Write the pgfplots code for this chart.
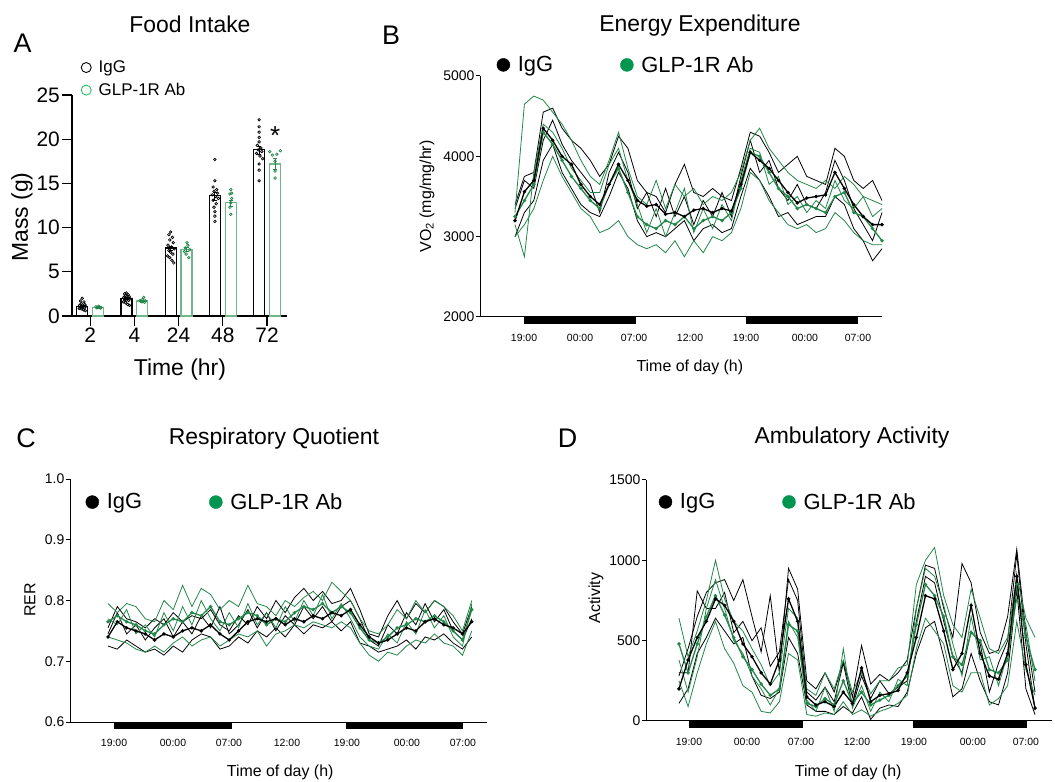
\documentclass[border=0pt]{standalone}
\usepackage{fontspec}
\setmainfont{Liberation Sans}
\usepackage{pgfplots}
\pgfplotsset{compat=1.18}
\usepackage{pgfplotstable}
\newcommand\fs[1]{\fontsize{#1}{#1}\selectfont}
\definecolor{glp}{RGB}{34,135,72}
\definecolor{glpdot}{RGB}{0,150,80}
\definecolor{glpbar}{RGB}{110,185,135}
\definecolor{glpleg}{RGB}{40,190,100}

% VO2, one row per hour (t = 0 is the first 19:00)
\pgfplotstableread{
t  k0   k1   k2   k3   g0   g1   g2   g3
-1 3200 3400 3000 3350 3250 3300 3000 3150
0  3560 3750 3300 3700 3450 4650 3150 2750
1  3700 3800 3450 3600 3650 4750 3350 3800
2  4350 4550 3950 4200 4300 4700 3700 4400
3  4200 4600 4150 4450 4150 4550 4000 4300
4  4000 4350 3800 4150 3950 4400 3750 4100
5  3900 4200 3600 3950 3750 4200 3550 3850
6  3650 4100 3400 3800 3600 3950 3350 3700
7  3500 3950 3300 3650 3450 3750 3250 3550
8  3400 3750 3250 3300 3350 3650 3050 3550
9  3650 3900 3500 3800 3650 3950 3100 3900
10 3900 4250 3800 4050 3850 4300 3200 4100
11 3700 4100 3600 3800 3550 3850 3000 3700
12 3450 3700 3200 3350 3250 3500 2900 3400
13 3380 3550 3000 3550 3150 3400 2850 3050
14 3400 3500 3050 3250 3100 3700 2900 3350
15 3280 3300 3000 3600 3200 3350 2800 3000
16 3300 3650 3100 3250 3150 3650 2950 3300
17 3250 3900 3200 3500 3250 3500 2750 3600
18 3330 3550 2950 3150 3100 3600 2950 3050
19 3350 3500 3100 3450 3200 3400 2800 3350
20 3300 3600 3150 3250 3250 3500 3000 3100
21 3350 3500 3050 3550 3200 3450 2950 3400
22 3320 3450 3100 3250 3300 3550 3050 3200
23 3650 3850 3500 3750 3600 3800 3350 3700
24 4050 4300 3850 4200 4050 4200 3800 4100
25 3950 4250 3700 3800 4000 4350 3700 4050
26 3850 4050 3500 3950 3800 4100 3450 3650
27 3700 3800 3250 3600 3600 3950 3300 3750
28 3550 3900 3300 3450 3500 3800 3150 3400
29 3420 4000 3150 3650 3350 3700 3100 3500
30 3480 3750 3200 3400 3400 3650 3150 3300
31 3500 3700 3250 3350 3350 3600 3050 3450
32 3520 3650 3250 3550 3300 3700 3100 3350
33 3800 4100 3500 3950 3500 3600 3300 3700
34 3600 4000 3400 3700 3550 3750 3200 3450
35 3400 3700 3100 3350 3300 3650 3050 3350
36 3250 3600 2950 3150 3250 3500 2950 3500
37 3150 3700 2700 2950 3100 3450 2900 3250
38 3150 3450 2850 3300 2950 3400 2900 3350
}\Bdata

% RER
\pgfplotstableread{
t  k0    k1    k2    k3    g0    g1    g2    g3
-1 0.740 0.755 0.725 0.745 0.765 0.795 0.740 0.770
0  0.765 0.790 0.720 0.780 0.775 0.780 0.735 0.760
1  0.755 0.770 0.735 0.745 0.765 0.795 0.730 0.785
2  0.750 0.765 0.725 0.760 0.760 0.790 0.720 0.745
3  0.745 0.755 0.715 0.735 0.750 0.770 0.715 0.760
4  0.735 0.770 0.720 0.755 0.745 0.765 0.725 0.740
5  0.745 0.760 0.710 0.770 0.760 0.800 0.715 0.780
6  0.740 0.780 0.725 0.740 0.770 0.785 0.730 0.750
7  0.750 0.765 0.715 0.765 0.765 0.825 0.740 0.790
8  0.755 0.775 0.735 0.745 0.780 0.790 0.725 0.760
9  0.750 0.770 0.745 0.775 0.775 0.820 0.735 0.800
10 0.760 0.785 0.740 0.755 0.790 0.810 0.740 0.770
11 0.745 0.760 0.720 0.790 0.765 0.785 0.725 0.750
12 0.735 0.750 0.725 0.745 0.760 0.800 0.735 0.780
13 0.750 0.775 0.740 0.760 0.770 0.790 0.745 0.755
14 0.765 0.760 0.730 0.785 0.780 0.825 0.740 0.795
15 0.770 0.790 0.750 0.755 0.775 0.795 0.750 0.760
16 0.765 0.770 0.740 0.780 0.760 0.790 0.725 0.780
17 0.770 0.800 0.755 0.750 0.770 0.775 0.745 0.755
18 0.760 0.780 0.740 0.775 0.765 0.800 0.750 0.790
19 0.770 0.805 0.760 0.760 0.780 0.790 0.760 0.765
20 0.765 0.820 0.745 0.790 0.790 0.805 0.755 0.800
21 0.775 0.800 0.760 0.770 0.785 0.815 0.765 0.775
22 0.770 0.815 0.755 0.790 0.795 0.800 0.760 0.810
23 0.780 0.795 0.765 0.765 0.780 0.830 0.755 0.770
24 0.775 0.800 0.750 0.790 0.790 0.815 0.765 0.795
25 0.785 0.820 0.765 0.800 0.780 0.800 0.755 0.770
26 0.760 0.785 0.730 0.770 0.755 0.770 0.730 0.740
27 0.740 0.745 0.725 0.735 0.735 0.750 0.710 0.725
28 0.730 0.740 0.715 0.725 0.730 0.745 0.700 0.720
29 0.735 0.775 0.720 0.760 0.740 0.760 0.715 0.745
30 0.745 0.800 0.725 0.745 0.755 0.785 0.710 0.730
31 0.755 0.770 0.735 0.780 0.760 0.770 0.725 0.765
32 0.750 0.795 0.720 0.760 0.770 0.800 0.735 0.745
33 0.765 0.780 0.740 0.795 0.765 0.780 0.730 0.785
34 0.770 0.800 0.735 0.765 0.775 0.800 0.745 0.755
35 0.760 0.790 0.745 0.785 0.765 0.790 0.730 0.775
36 0.755 0.765 0.730 0.750 0.750 0.775 0.725 0.740
37 0.745 0.745 0.720 0.735 0.735 0.750 0.710 0.725
38 0.765 0.790 0.740 0.770 0.785 0.800 0.750 0.795
}\Cdata

% ambulatory activity
\pgfplotstableread{
t  k0  k1   k2  k3   g0  g1   g2  g3
-1 200 280  110 300  480 640  250 380
0  380 450  200 300  300 400  90  180
1  520 650  420 810  480 560  300 400
2  620 800  520 700  650 750  480 700
3  760 860  640 700  780 1000 620 880
4  720 880  560 800  660 760  450 700
5  620 750  480 550  520 620  360 500
6  480 880  520 620  400 560  220 420
7  400 650  280 500  320 450  180 280
8  300 430  160 580  230 350  60  200
9  230 780  140 340  160 220  50  100
10 380 300  180 430  200 300  120 200
11 760 950  520 880  600 700  420 620
12 620 820  420 750  560 640  380 520
13 150 250  100 180  110 200  40  130
14 100 200  60  130  90  160  30  60
15 120 300  60  210  140 300  50  210
16 90  180  40  120  100 200  40  60
17 180 370  90  360  250 380  120 450
18 110 150  50  90   110 180  40  80
19 330 470  150 280  180 300  70  220
20 120 230  10  140  100 170  30  60
21 160 290  80  250  130 250  60  180
22 170 250  100 170  160 250  80  120
23 190 300  90  210  220 330  110 260
24 300 380  180 250  280 350  160 220
25 520 700  420 620  600 850  450 700
26 780 970  580 900  850 1000 640 950
27 760 950  620 860  780 1080 560 900
28 560 700  400 620  650 780  480 720
29 320 520  150 400  400 600  220 480
30 420 980  200 300  350 520  180 280
31 720 860  420 560  550 820  300 650
32 420 550  250 480  500 640  300 380
33 280 420  120 180  320 450  100 400
34 260 440  100 360  300 420  140 220
35 420 650  300 500  380 520  220 420
36 900 1070 820 1040 850 900  620 760
37 350 550  200 480  520 640  320 600
38 80  180  40  70   320 520  160 250
}\Ddata

\pgfplotsset{
  timeax/.style={scale only axis, axis lines=left,
    axis line style={-, line width=1bp},
    tick align=outside, major tick length=4bp,
    ytick style={black, line width=1bp}, xtick style={draw=none},
    scaled ticks=false,
    /pgf/number format/assume math mode=true,
    /pgf/number format/1000 sep={},
    yticklabel style={font=\fs{14}, inner sep=1.5bp},
    xticklabel style={font=\fs{10.5}, yshift=-10bp},
    label style={font=\fs{16}},
    clip=false,
    legend columns=2,
    legend style={draw=none, fill=none, font=\fs{22}, inner sep=0pt,
      nodes={inner sep=2bp}, anchor=west,
      /tikz/every even column/.append style={column sep=65bp}}},
  thin/.style={line width=0.8bp},
  mean/.style={line width=1.3bp, mark=*, mark size=1bp},
  dotleg/.style={legend image code/.code={%
    \path[draw=none, fill=none] (0bp,-13bp) -- (19bp,13bp);
    \fill[#1] (6.5bp,0bp) circle (6.5bp);}},
  ringleg/.style={legend image code/.code={%
    \path[draw=none, fill=none] (0bp,0bp) -- (16bp,0bp);
    \draw[#1, line width=0.9bp, fill=none] (5bp,0) circle (5bp);}}
}

\begin{document}
\begin{tikzpicture}
\useasboundingbox (0,0) rectangle (1055bp,782bp);

% ---------- A: food intake ----------
\begin{axis}[at={(72bp,466bp)}, anchor=south west,
  scale only axis, width=215bp, height=221bp,
  axis lines=left, axis line style={-, line width=1.2bp},
  tick align=outside, major tick length=10bp,
  tick style={black, line width=1.2bp},
  xmin=-0.41, xmax=4.45, ymin=0, ymax=25,
  ytick={0,5,...,25}, xtick={0,1,2,3,4}, xticklabels={2,4,24,48,72},
  /pgf/number format/assume math mode=true,
  tick label style={font=\fs{21}, inner sep=2bp},
  label style={font=\fs{23}},
  ylabel={Mass (g)}, xlabel={Time (hr)},
  ylabel style={at={(axis description cs:-0.233,0.448)}, anchor=center},
  xlabel style={at={(axis description cs:0.502,-0.244)}, anchor=center},
  clip=false,
  legend style={draw=none, fill=none, font=\fs{17}, inner sep=0pt,
    nodes={inner sep=1.5bp}, row sep=6bp, at={(axis description cs:0.04,1.162)},
    anchor=north west},
  legend cell align=left]
\addlegendimage{ringleg=black}
\addlegendentry{IgG}
\addlegendimage{ringleg=glpleg}
\addlegendentry{GLP-1R Ab}
\addplot[ybar, bar width=11bp, bar shift=0pt, draw=black, fill=white,
  line width=1.3bp, error bars/.cd, y dir=both, y explicit,
  error bar style={line width=1bp, black}]
  coordinates {(-0.18,1.1) +- (0,0.1) (0.82,2.0) +- (0,0.1)
    (1.82,7.7) +- (0,0.25) (2.82,13.6) +- (0,0.45) (3.82,18.8) +- (0,0.45)};
\addplot[ybar, bar width=11bp, bar shift=0pt, draw=glpbar, fill=white,
  line width=1.3bp, error bars/.cd, y dir=both, y explicit,
  error bar style={line width=1bp, glp}]
  coordinates {(0.18,0.95) +- (0,0.05) (1.18,1.7) +- (0,0.1)
    (2.18,7.55) +- (0,0.2) (3.18,12.8) +- (0,0.35) (4.18,17.2) +- (0,0.6)};
\addplot[only marks, mark=o, mark size=1.3bp, black, mark options={line width=0.7bp}]
  coordinates {
  (-0.18,2.0) (-0.22,1.7) (-0.14,1.6) (-0.2,1.4) (-0.12,1.3) (-0.24,1.2)
  (-0.16,1.15) (-0.1,1.1) (-0.22,1.0) (-0.18,0.95) (-0.13,0.9) (-0.25,0.85)
  (-0.2,0.8) (-0.15,0.7) (-0.11,0.6)
  (0.82,2.6) (0.78,2.5) (0.86,2.4) (0.8,2.3) (0.88,2.2) (0.76,2.1) (0.84,2.05)
  (0.9,2.0) (0.78,1.9) (0.82,1.8) (0.87,1.75) (0.75,1.6) (0.8,1.5) (0.85,1.3) (0.89,1.2)
  (1.82,9.5) (1.78,9.2) (1.86,8.9) (1.8,8.6) (1.88,8.3) (1.76,8.0) (1.84,7.8)
  (1.9,7.6) (1.78,7.4) (1.82,7.2) (1.87,7.0) (1.75,6.8) (1.8,6.6) (1.85,6.3) (1.89,6.0)
  (2.82,17.7) (2.82,15.3) (2.78,14.6) (2.86,14.3) (2.8,14.1) (2.88,13.9) (2.76,13.7)
  (2.84,13.5) (2.9,13.3) (2.78,13.1) (2.85,12.7) (2.8,12.3) (2.82,11.8) (2.82,11.3) (2.82,10.7)
  (3.82,22.2) (3.82,21.4) (3.82,20.8) (3.82,20.2) (3.82,19.7) (3.78,19.3) (3.86,19.0)
  (3.8,18.8) (3.88,18.6) (3.76,18.4) (3.84,18.1) (3.9,17.8) (3.82,17.2) (3.82,16.5) (3.82,15.3)};
\addplot[only marks, mark=o, mark size=1.3bp, glp, mark options={line width=0.7bp}]
  coordinates {
  (0.13,1.05) (0.17,1.0) (0.21,1.02) (0.25,0.95) (0.15,0.92) (0.23,0.9) (0.19,1.1)
  (1.13,1.75) (1.17,1.6) (1.21,2.1) (1.25,1.7) (1.15,1.65) (1.23,1.55) (1.19,1.9)
  (2.13,7.3) (2.17,7.0) (2.21,8.0) (2.25,7.5) (2.15,7.7) (2.23,6.6) (2.19,8.3)
  (3.18,14.3) (3.16,13.8) (3.2,13.3) (3.18,12.8) (3.16,12.3) (3.18,11.5) (3.2,13.9)
  (4.06,18.6) (4.3,18.7) (4.12,18.2) (4.22,18.3) (4.18,17.5) (4.18,16.4) (4.18,15.6)};
\node[font=\fs{26}] at (axis cs:4.18,20.4) {*};
\end{axis}

% ---------- B: energy expenditure ----------
\begin{axis}[timeax, at={(480bp,465bp)}, anchor=south west,
  width=402bp, height=241bp,
  xmin=-4.72, xmax=38.0, ymin=2000, ymax=5000, ytick={2000,3000,4000,5000},
  xtick={-0.04,5.91,11.65,17.6,23.55,29.8,35.45},
  xticklabels={19:00,00:00,07:00,12:00,19:00,00:00,07:00},
  ylabel={VO\textsubscript{2} (mg/mg/hr)}, xlabel={Time of day (h)},
  ylabel style={at={(axis description cs:-0.132,0.5)}, anchor=center},
  xlabel style={at={(axis description cs:0.522,-0.207)}, anchor=center},
  legend style={at={(axis description cs:0.041,1.046)}}]
\addlegendimage{dotleg=black}
\addlegendentry{IgG}
\addlegendimage{dotleg=glpdot}
\addlegendentry{GLP-1R Ab}
\addplot[thin, black] table[x=t, y=k1] \Bdata;
\addplot[thin, black] table[x=t, y=k2] \Bdata;
\addplot[thin, black] table[x=t, y=k3] \Bdata;
\addplot[thin, glp] table[x=t, y=g1] \Bdata;
\addplot[thin, glp] table[x=t, y=g2] \Bdata;
\addplot[thin, glp] table[x=t, y=g3] \Bdata;
\addplot[mean, glp] table[x=t, y=g0] \Bdata;
\addplot[mean, black] table[x=t, y=k0] \Bdata;
\addplot[fill=black, draw=none, forget plot] coordinates
  {(-0.04,2000) (11.86,2000) (11.86,1913) (-0.04,1913)} -- cycle;
\addplot[fill=black, draw=none, forget plot] coordinates
  {(23.55,2000) (35.45,2000) (35.45,1913) (23.55,1913)} -- cycle;
\end{axis}

% ---------- C: respiratory quotient ----------
\begin{axis}[timeax, at={(70bp,60bp)}, anchor=south west,
  width=417bp, height=243bp,
  xmin=-5.07, xmax=39.63, ymin=0.6, ymax=1.0, ytick={0.6,0.7,0.8,0.9,1.0},
  yticklabel style={/pgf/number format/.cd, fixed, fixed zerofill, precision=1},
  xtick={-0.35,5.97,11.97,18.19,24.62,31.05,37.05},
  xticklabels={19:00,00:00,07:00,12:00,19:00,00:00,07:00},
  ylabel={RER}, xlabel={Time of day (h)},
  ylabel style={at={(axis description cs:-0.096,0.502)}, anchor=center},
  xlabel style={at={(axis description cs:0.504,-0.206)}, anchor=center},
  legend style={at={(axis description cs:0.037,0.905)}}]
\addlegendimage{dotleg=black}
\addlegendentry{IgG}
\addlegendimage{dotleg=glpdot}
\addlegendentry{GLP-1R Ab}
\addplot[thin, black] table[x=t, y=k1] \Cdata;
\addplot[thin, black] table[x=t, y=k2] \Cdata;
\addplot[thin, black] table[x=t, y=k3] \Cdata;
\addplot[thin, glp] table[x=t, y=g1] \Cdata;
\addplot[thin, glp] table[x=t, y=g2] \Cdata;
\addplot[thin, glp] table[x=t, y=g3] \Cdata;
\addplot[mean, glp] table[x=t, y=g0] \Cdata;
\addplot[mean, black] table[x=t, y=k0] \Cdata;
\addplot[fill=black, draw=none, forget plot] coordinates
  {(-0.35,0.6) (12.3,0.6) (12.3,0.5885) (-0.35,0.5885)} -- cycle;
\addplot[fill=black, draw=none, forget plot] coordinates
  {(24.52,0.6) (37.05,0.6) (37.05,0.5885) (24.52,0.5885)} -- cycle;
\end{axis}

% ---------- D: ambulatory activity ----------
\begin{axis}[timeax, at={(646bp,61bp)}, anchor=south west,
  width=406bp, height=241bp,
  xmin=-4.61, xmax=39.86, ymin=0, ymax=1500, ytick={0,500,1000,1500},
  xtick={0.1,6.45,12.37,18.5,24.74,31.2,37.0},
  xticklabels={19:00,00:00,07:00,12:00,19:00,00:00,07:00},
  ylabel={Activity}, xlabel={Time of day (h)},
  ylabel style={at={(axis description cs:-0.123,0.51)}, anchor=center},
  xlabel style={at={(axis description cs:0.498,-0.212)}, anchor=center},
  legend style={at={(axis description cs:0.031,0.909)}}]
\addlegendimage{dotleg=black}
\addlegendentry{IgG}
\addlegendimage{dotleg=glpdot}
\addlegendentry{GLP-1R Ab}
\addplot[thin, black] table[x=t, y=k1] \Ddata;
\addplot[thin, black] table[x=t, y=k2] \Ddata;
\addplot[thin, black] table[x=t, y=k3] \Ddata;
\addplot[thin, glp] table[x=t, y=g1] \Ddata;
\addplot[thin, glp] table[x=t, y=g2] \Ddata;
\addplot[thin, glp] table[x=t, y=g3] \Ddata;
\addplot[mean, glp] table[x=t, y=g0] \Ddata;
\addplot[mean, black] table[x=t, y=k0] \Ddata;
\addplot[fill=black, draw=none, forget plot] coordinates
  {(0.1,0) (12.6,0) (12.6,-43.6) (0.1,-43.6)} -- cycle;
\addplot[fill=black, draw=none, forget plot] coordinates
  {(24.6,0) (37.1,0) (37.1,-43.6) (24.6,-43.6)} -- cycle;
\end{axis}

% titles and panel letters
\node[font=\fs{23}, anchor=base] at (190bp,749bp) {Food Intake};
\node[font=\fs{23}, anchor=base] at (700bp,750bp) {Energy Expenditure};
\node[font=\fs{23}, anchor=base] at (274bp,337bp) {Respiratory Quotient};
\node[font=\fs{23}, anchor=base] at (852bp,338bp) {Ambulatory Activity};
\node[font=\fs{27}, anchor=base] at (22.5bp,729bp) {A};
\node[font=\fs{27}, anchor=base] at (391bp,737bp) {B};
\node[font=\fs{27}, anchor=base] at (26bp,334bp) {C};
\node[font=\fs{27}, anchor=base] at (567.5bp,334bp) {D};
\end{tikzpicture}
\end{document}
